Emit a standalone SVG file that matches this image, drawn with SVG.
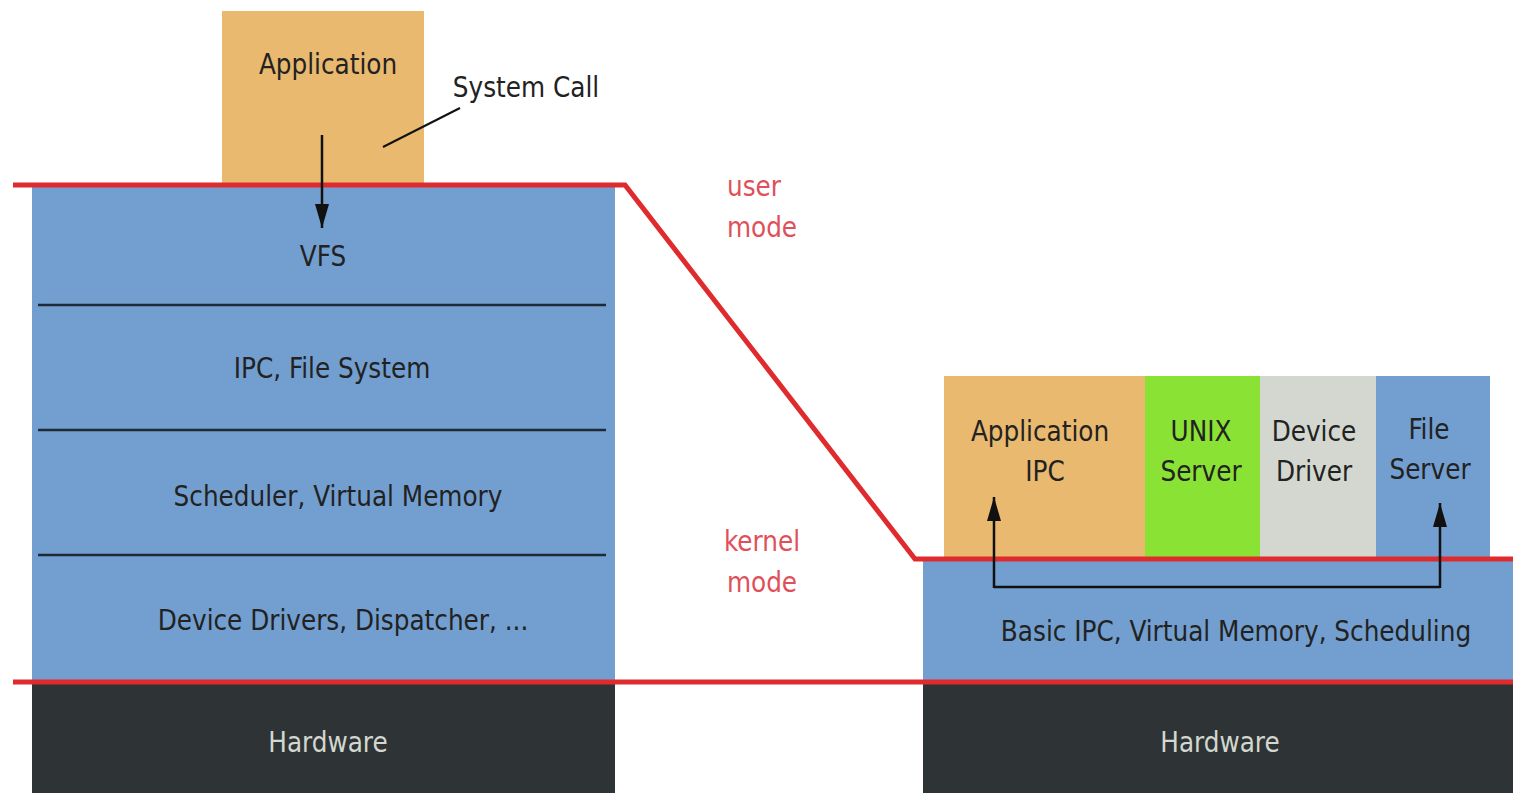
<svg xmlns="http://www.w3.org/2000/svg" width="1513" height="793" viewBox="0 0 1513 793">
<style>
text{font-family:"DejaVu Sans Condensed","DejaVu Sans",sans-serif;font-size:27.5px;text-anchor:middle}
.dk{fill:#222}
.hw{fill:#d3d7cf}
.rd{fill:#e0505a}
.div{stroke:#1f2a36;stroke-width:2.5}
.red{stroke:#e02b2e;stroke-width:5;fill:none}
.arr{stroke:#111;stroke-width:2.5;fill:none}
</style>
<defs>
<marker id="ah" viewBox="0 0 24 14" refX="24" refY="7" markerWidth="24" markerHeight="14" markerUnits="userSpaceOnUse" orient="auto">
<path d="M0,0 L24,7 L0,14 z" fill="#111"/>
</marker>
</defs>
<rect width="1513" height="793" fill="#fff"/>
<g id="app">
<rect x="222" y="11" width="202" height="174" fill="#e8b96e"/>
<text class="dk" x="328" y="74">Application</text>
</g>
<g id="kernel-left">
<rect x="32" y="186" width="583" height="496" fill="#729fcf"/>
<line class="div" x1="38" y1="305" x2="606" y2="305"/>
<line class="div" x1="38" y1="430" x2="606" y2="430"/>
<line class="div" x1="38" y1="555" x2="606" y2="555"/>
<text class="dk" x="323" y="266">VFS</text>
<text class="dk" x="332" y="378">IPC, File System</text>
<text class="dk" x="338" y="506">Scheduler, Virtual Memory</text>
<text class="dk" x="343" y="630">Device Drivers, Dispatcher, ...</text>
</g>
<g id="hw-left">
<rect x="32" y="683" width="583" height="110" fill="#2e3436"/>
<text class="hw" x="328" y="752">Hardware</text>
</g>
<g id="app-ipc">
<rect x="944" y="376" width="201" height="182" fill="#e8b96e"/>
<text class="dk" x="1040" y="441">Application</text>
<text class="dk" x="1045" y="481">IPC</text>
</g>
<g id="unix-server">
<rect x="1145" y="376" width="115" height="182" fill="#8ae234"/>
<text class="dk" x="1201" y="441">UNIX</text>
<text class="dk" x="1201" y="481">Server</text>
</g>
<g id="device-driver">
<rect x="1260" y="376" width="116" height="182" fill="#d3d7cf"/>
<text class="dk" x="1314" y="441">Device</text>
<text class="dk" x="1314" y="481">Driver</text>
</g>
<g id="file-server">
<rect x="1376" y="376" width="114" height="182" fill="#729fcf"/>
<text class="dk" x="1429" y="439">File</text>
<text class="dk" x="1430" y="479">Server</text>
</g>
<g id="microkernel">
<rect x="923" y="559" width="590" height="123" fill="#729fcf"/>
<text class="dk" x="1236" y="641">Basic IPC, Virtual Memory, Scheduling</text>
</g>
<g id="hw-right">
<rect x="923" y="683" width="590" height="110" fill="#2e3436"/>
<text class="hw" x="1220" y="752">Hardware</text>
</g>
<g id="labels">
<text class="dk" x="526" y="97">System Call</text>
<text class="rd" x="754" y="196">user</text>
<text class="rd" x="762" y="237">mode</text>
<text class="rd" x="762" y="551">kernel</text>
<text class="rd" x="762" y="592">mode</text>
</g>
<g id="connectors">
<polyline class="red" points="13,185 625,185 915,559 1513,559"/>
<line class="red" x1="13" y1="682" x2="1513" y2="682"/>
<line class="arr" x1="322" y1="135" x2="322" y2="228" marker-end="url(#ah)"/>
<line x1="383" y1="147" x2="460" y2="108" stroke="#111" stroke-width="2"/>
<polyline class="arr" points="994,587 1440,587"/>
<line class="arr" x1="994" y1="588" x2="994" y2="497" marker-end="url(#ah)"/>
<line class="arr" x1="1440" y1="588" x2="1440" y2="503" marker-end="url(#ah)"/>
</g>
</svg>
